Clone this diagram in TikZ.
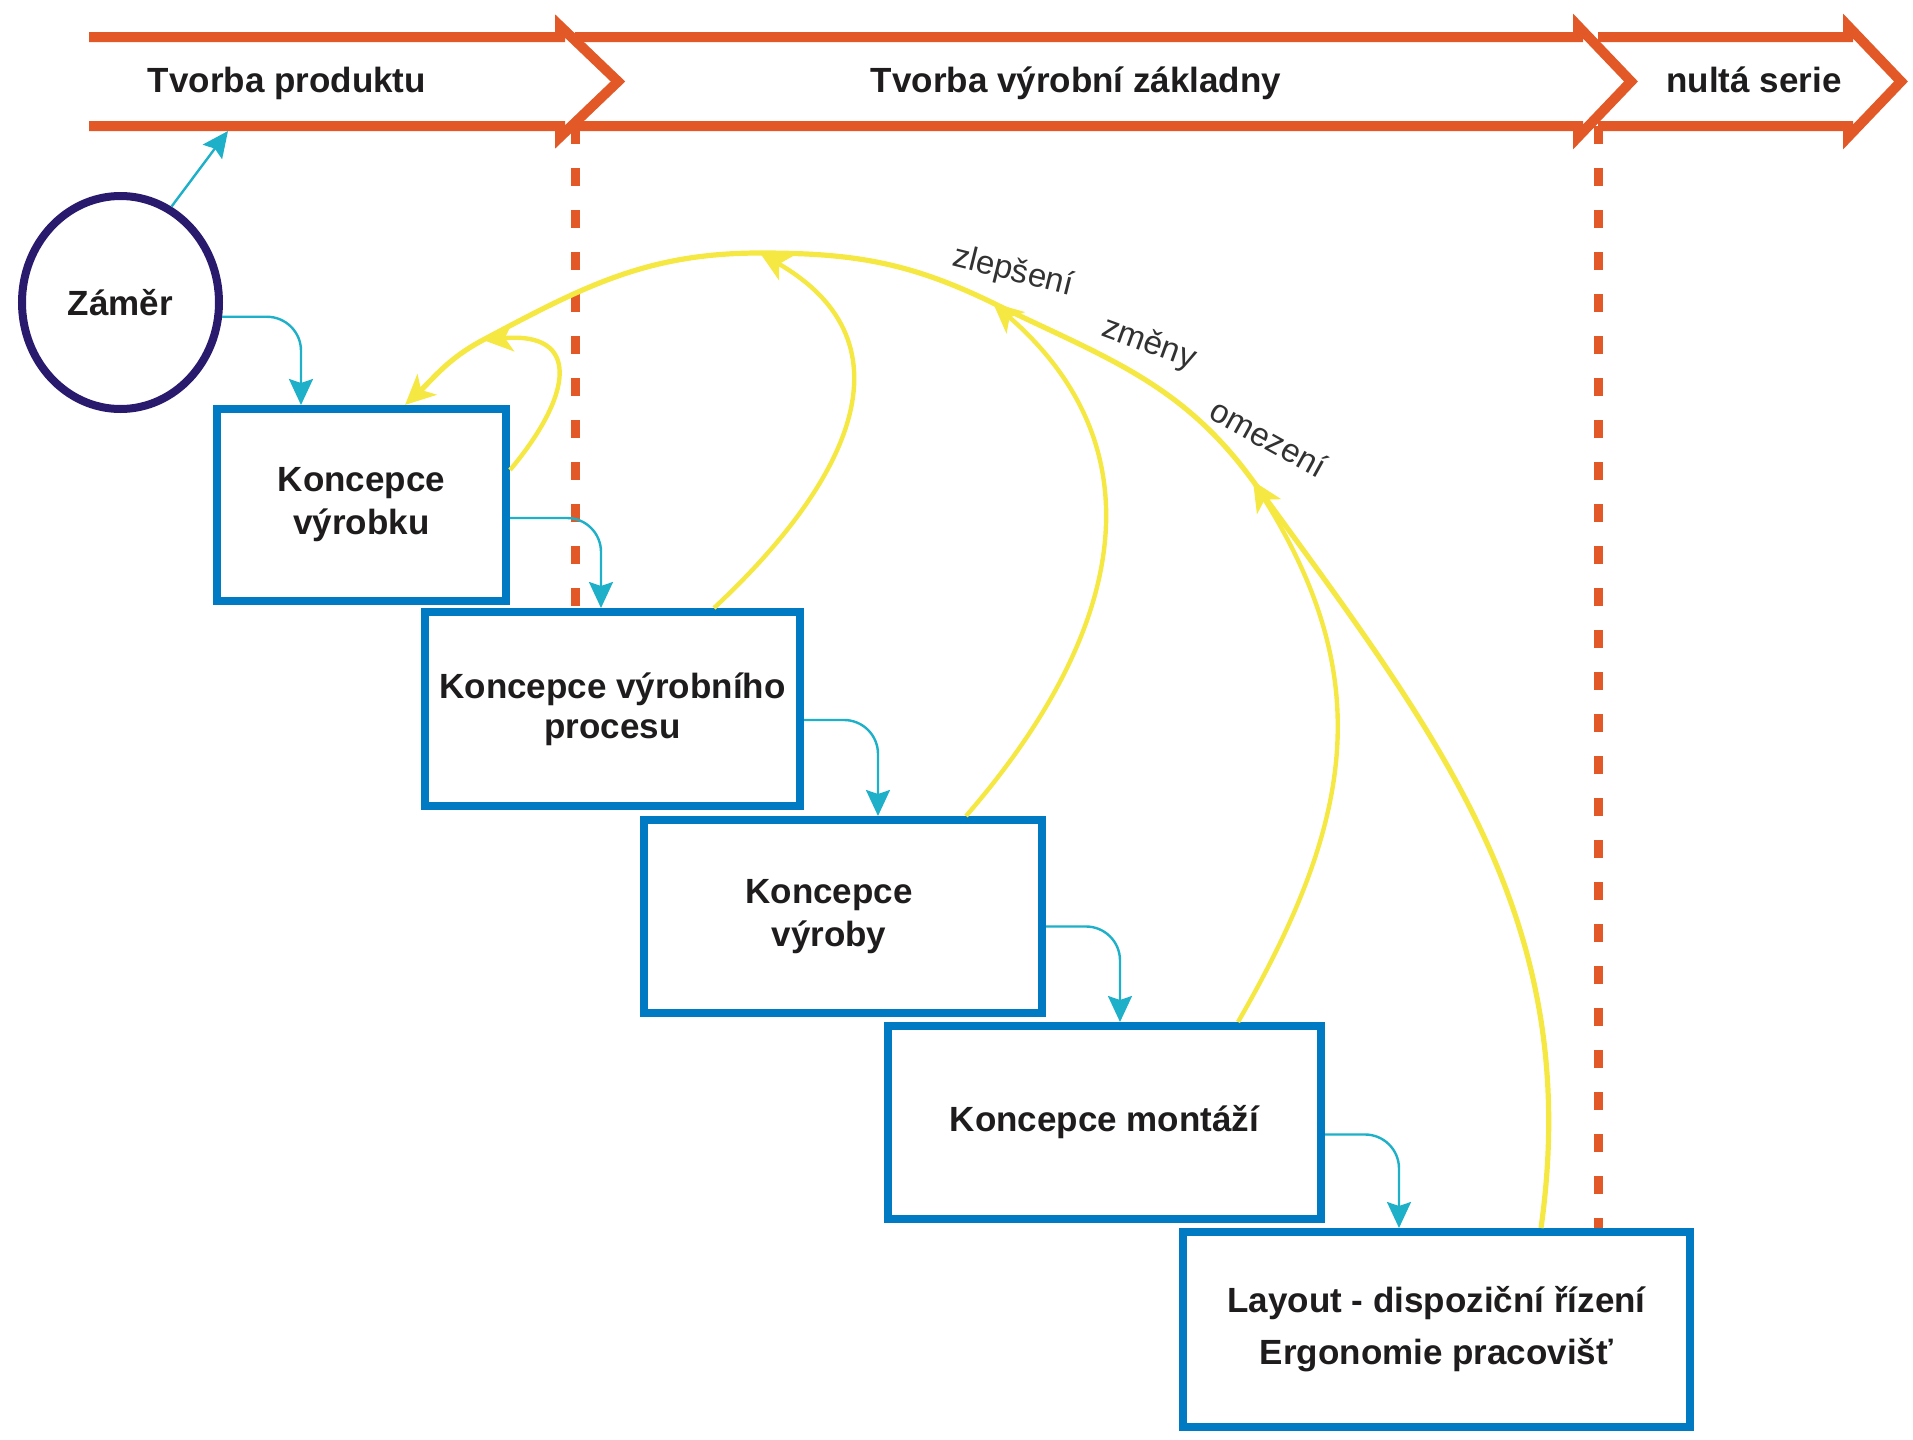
\documentclass[tikz,border=0pt]{standalone}
\usepackage{fontspec}
\setmainfont{Liberation Sans}
\usetikzlibrary{arrows.meta,shapes.geometric}

\definecolor{bannerorange}{RGB}{226,88,38}
\definecolor{boxblue}{RGB}{0,122,194}
\definecolor{flowcyan}{RGB}{30,176,200}
\definecolor{loopyellow}{RGB}{246,232,66}
\definecolor{ideanavy}{RGB}{42,26,110}
\definecolor{inktext}{RGB}{30,28,28}
\definecolor{notegray}{RGB}{50,50,50}

\begin{document}
\begin{tikzpicture}[
  x=0.5pt, y=0.5pt,
  phase/.style={draw=bannerorange, line width=5pt, line join=miter, miter limit=20},
  phasetext/.style={font=\bfseries\fontsize{17.5}{21}\selectfont, text=inktext, anchor=base, inner sep=0pt},
  milestone/.style={draw=bannerorange, line width=4.5pt, dash pattern=on 9pt off 12pt},
  stage/.style={draw=boxblue, line width=4pt, fill=white, inner sep=0pt, align=center,
                font=\bfseries\fontsize{17.5}{21.5}\selectfont, text=inktext},
  stagetext/.style={inner sep=0pt, align=center,
                font=\bfseries\fontsize{17.5}{21.5}\selectfont, text=inktext},
  idea/.style={draw=ideanavy, line width=4pt, ellipse, inner sep=0pt,
               font=\bfseries\fontsize{17.5}{21}\selectfont, text=inktext},
  flow/.style={draw=flowcyan, line width=1.2pt, rounded corners=17pt,
               -{Stealth[length=13pt,width=12pt,inset=2pt]}},
  feedback/.style={draw=loopyellow, line width=2.2pt,
               -{Stealth[length=15pt,width=14pt,inset=4pt]}},
  note/.style={font=\fontsize{16.5}{20}\selectfont, text=notegray, inner sep=0pt}
]
\useasboundingbox[fill=white] (0,0) rectangle (1913,-1440);

% phase banner: three open block arrows
\draw[phase] (89,-37) -- (560,-37) -- (560,-26) -- (618,-81.5) -- (560,-137) -- (560,-126) -- (89,-126);
\draw[phase] (575,-37) -- (1578,-37) -- (1578,-26) -- (1631,-81.5) -- (1578,-137) -- (1578,-126) -- (575,-126);
\draw[phase] (1598,-37) -- (1848,-37) -- (1848,-26) -- (1901,-81.5) -- (1848,-137) -- (1848,-126) -- (1598,-126);
\node[phasetext] (p1) at (287,-92) {Tvorba produktu};
\node[phasetext] (p2) at (1076,-92) {Tvorba výrobní základny};
\node[phasetext] (p3) at (1754,-92) {nultá serie};
\coordinate (bannerfoot) at (228,-131);

% phase boundaries (the stage boxes cover their lower ends)
\draw[milestone] (575,-126) -- (575,-612);
\draw[milestone] (1598,-126) -- (1598,-1232);

% stages
\node[idea, minimum width=98.5pt, minimum height=106.5pt] (zamer) at (120.5,-302.5) {Záměr};
\node[stage, minimum width=144.5pt, minimum height=96pt] (b1) at (361.5,-505) {Koncepce\\výrobku};
\node[stage, minimum width=187.5pt, minimum height=97pt,
      font=\bfseries\fontsize{17.5}{20}\selectfont] (b2) at (612.5,-709) {Koncepce výrobního\\procesu};
\node[stage, minimum width=199pt, minimum height=96.5pt] (b3) at (843,-916.5) {};
\node[stagetext] (b3t) at (829,-916.5) {Koncepce\\výroby};
\node[stage, minimum width=216.5pt, minimum height=96.5pt] (b4) at (1104.5,-1122.5) {Koncepce montáží};
\node[stage, minimum width=253.5pt, minimum height=97.5pt,
      font=\bfseries\fontsize{17.5}{26}\selectfont] (b5) at (1436.5,-1329.5) {Layout - dispoziční řízení\\Ergonomie pracovišť};

% forward flow
\coordinate (t0) at (301,0);
\coordinate (t12) at (601,0);
\coordinate (t23) at (878,0);
\coordinate (t34) at (1120,0);
\coordinate (t45) at (1399,0);
\draw[flow, rounded corners=0pt] (zamer.62) -- (bannerfoot);
\draw[flow] (zamer.-8) -| (t0 |- b1.north);
\draw[flow] ([yshift=-6.5pt]b1.east) -| (t12 |- b2.north);
\draw[flow] ([yshift=-5.5pt]b2.east) -| (t23 |- b3.north);
\draw[flow] ([yshift=-5pt]b3.east) -| (t34 |- b4.north);
\draw[flow] ([yshift=-6pt]b4.east) -| (t45 |- b5.north);

% feedback loops
\coordinate (m4) at (1253,-481);
\coordinate (m3) at (993,-303);
\coordinate (m2) at (760,-253);
\coordinate (ml) at (483,-340);
\coordinate (y1) at (405,0);
\coordinate (y2) at (714,0);
\coordinate (y3) at (966,0);
\coordinate (y4) at (1238,0);
\coordinate (y5) at (1541,0);
\draw[feedback, line width=2.6pt] (y5 |- b5.north) to[out=82,in=-54] (m4)
  to[out=126,in=-26] (m3) to[out=154,in=0] (m2) to[out=180,in=28] (ml)
  to[out=208,in=43] (y1 |- b1.north);
\draw[feedback] (y4 |- b4.north) to[out=60,in=-58,looseness=1.1] (m4);
\draw[feedback] (y3 |- b3.north) to[out=49,in=-41,looseness=1.15] (m3);
\draw[feedback] (y2 |- b2.north) to[out=43,in=-30,looseness=1.3] (m2);
\draw[feedback] ([yshift=17.5pt]b1.east) to[out=50,in=5,looseness=1.9] (ml);

\node[note, rotate=-14] (lz) at (1013,-272) {zlepšení};
\node[note, rotate=-20] (lzm) at (1149,-344) {změny};
\node[note, rotate=-29] (lo) at (1269,-438) {omezení};
\end{tikzpicture}
\end{document}
